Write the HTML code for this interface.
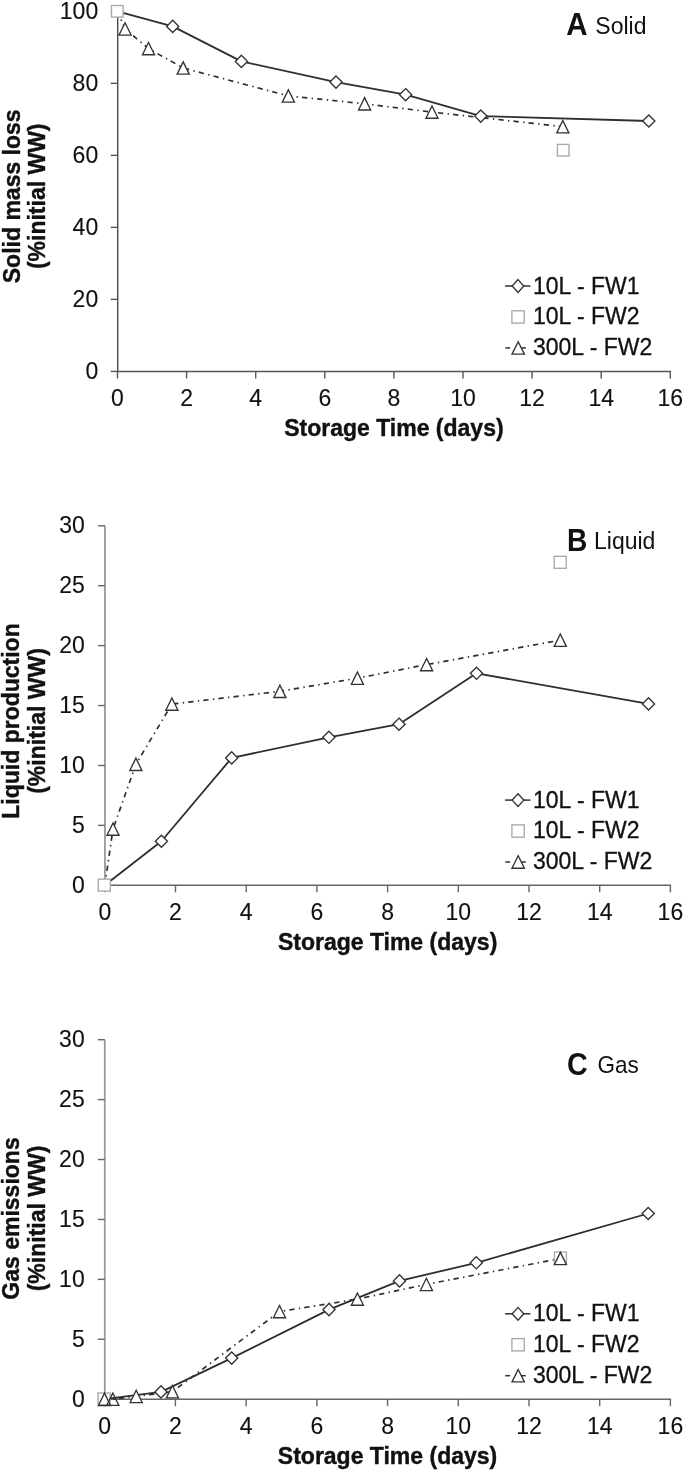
<!DOCTYPE html>
<html><head><meta charset="utf-8"><title>Storage time figure</title>
<style>
html,body{margin:0;padding:0;background:#fff;}
body{width:685px;height:1471px;overflow:hidden;}
svg{display:block;}
text{font-family:'Liberation Sans', Arial, Helvetica, sans-serif;fill:#111;stroke:#111;stroke-width:0;}
.tl{font-size:23px;stroke-width:0.12px;}
.tt{font-size:23px;font-weight:bold;stroke-width:0.4px;}
.pl{font-weight:bold;}
.lg{font-size:23px;stroke-width:0.3px;}
.ln{fill:none;stroke:#2e2e2e;stroke-width:1.8;stroke-linejoin:round;}
.dd{fill:none;stroke:#2e2e2e;stroke-width:1.7;stroke-dasharray:5.3 4.4 1.4 4.1;stroke-dashoffset:0.8;}
.mk{fill:#fff;stroke:#333333;stroke-width:1.35;stroke-linejoin:miter;}
.sq{fill:#fff;stroke:#a8a8a8;stroke-width:1.35;}
</style></head>
<body>
<svg width="685" height="1471" viewBox="0 0 685 1471">
<rect width="685" height="1471" fill="#fff"/>
<line x1="117.7" y1="11.35" x2="117.7" y2="371.4" stroke="#4a4a4a" stroke-width="1.4"/>
<line x1="110.7" y1="371.4" x2="117.7" y2="371.4" stroke="#555" stroke-width="1.4"/>
<text class="tl" x="98.2" y="378.7" text-anchor="end">0</text>
<line x1="110.7" y1="299.39" x2="117.7" y2="299.39" stroke="#555" stroke-width="1.4"/>
<text class="tl" x="98.2" y="306.69" text-anchor="end">20</text>
<line x1="110.7" y1="227.38" x2="117.7" y2="227.38" stroke="#555" stroke-width="1.4"/>
<text class="tl" x="98.2" y="234.68" text-anchor="end">40</text>
<line x1="110.7" y1="155.37" x2="117.7" y2="155.37" stroke="#555" stroke-width="1.4"/>
<text class="tl" x="98.2" y="162.67" text-anchor="end">60</text>
<line x1="110.7" y1="83.36" x2="117.7" y2="83.36" stroke="#555" stroke-width="1.4"/>
<text class="tl" x="98.2" y="90.66" text-anchor="end">80</text>
<line x1="110.7" y1="11.35" x2="117.7" y2="11.35" stroke="#555" stroke-width="1.4"/>
<text class="tl" x="98.2" y="18.65" text-anchor="end">100</text>
<line x1="116.8" y1="371.4" x2="671" y2="371.4" stroke="#555" stroke-width="1.5"/>
<line x1="117.5" y1="371.4" x2="117.5" y2="378.4" stroke="#555" stroke-width="1.4"/>
<text class="tl" x="117.5" y="405.7" text-anchor="middle">0</text>
<line x1="186.6" y1="371.4" x2="186.6" y2="378.4" stroke="#555" stroke-width="1.4"/>
<text class="tl" x="186.6" y="405.7" text-anchor="middle">2</text>
<line x1="255.7" y1="371.4" x2="255.7" y2="378.4" stroke="#555" stroke-width="1.4"/>
<text class="tl" x="255.7" y="405.7" text-anchor="middle">4</text>
<line x1="324.8" y1="371.4" x2="324.8" y2="378.4" stroke="#555" stroke-width="1.4"/>
<text class="tl" x="324.8" y="405.7" text-anchor="middle">6</text>
<line x1="393.9" y1="371.4" x2="393.9" y2="378.4" stroke="#555" stroke-width="1.4"/>
<text class="tl" x="393.9" y="405.7" text-anchor="middle">8</text>
<line x1="463" y1="371.4" x2="463" y2="378.4" stroke="#555" stroke-width="1.4"/>
<text class="tl" x="463" y="405.7" text-anchor="middle">10</text>
<line x1="532.1" y1="371.4" x2="532.1" y2="378.4" stroke="#555" stroke-width="1.4"/>
<text class="tl" x="532.1" y="405.7" text-anchor="middle">12</text>
<line x1="601.2" y1="371.4" x2="601.2" y2="378.4" stroke="#555" stroke-width="1.4"/>
<text class="tl" x="601.2" y="405.7" text-anchor="middle">14</text>
<line x1="670.3" y1="371.4" x2="670.3" y2="378.4" stroke="#555" stroke-width="1.4"/>
<text class="tl" x="670.3" y="405.7" text-anchor="middle">16</text>
<text class="tt" x="393.9" y="435.8" text-anchor="middle">Storage Time (days)</text>
<text class="tt" transform="translate(19.5 196.3) rotate(-90)" text-anchor="middle">Solid mass loss</text>
<text class="tt" transform="translate(44.8 196.3) rotate(-90)" text-anchor="middle">(%initial WW)</text>
<text class="pl" transform="translate(566.3 35.1) scale(1 1.07)" style="font-size:29.5px">A</text>
<text class="pw" transform="translate(595.3 34.3) scale(1 1)" style="font-size:23px">Solid</text>
<polyline class="ln" points="117.5,11.35 172.7,26.4 241.4,61.4 336,82.1 405.6,94.7 480.8,116.1 648.8,121"/>
<polyline class="dd" points="117.5,11.35 125.1,28.9 148.5,48.6 183.2,68 288.4,95.95 364.6,103.8 432,112.1 562.8,126.7"/>
<path class="mk" d="M172.7 20.3L178.8 26.4L172.7 32.5L166.6 26.4Z"/>
<path class="mk" d="M241.4 55.3L247.5 61.4L241.4 67.5L235.3 61.4Z"/>
<path class="mk" d="M336 76L342.1 82.1L336 88.2L329.9 82.1Z"/>
<path class="mk" d="M405.6 88.6L411.7 94.7L405.6 100.8L399.5 94.7Z"/>
<path class="mk" d="M480.8 110L486.9 116.1L480.8 122.2L474.7 116.1Z"/>
<path class="mk" d="M648.8 114.9L654.9 121L648.8 127.1L642.7 121Z"/>
<rect class="sq" x="111.5" y="5.5" width="11.6" height="11.6"/>
<rect class="sq" x="557.4" y="144.4" width="11.6" height="11.6"/>
<path class="mk" d="M125.1 22.75L131.15 35.05L119.05 35.05Z"/>
<path class="mk" d="M148.5 42.45L154.55 54.75L142.45 54.75Z"/>
<path class="mk" d="M183.2 61.85L189.25 74.15L177.15 74.15Z"/>
<path class="mk" d="M288.4 89.8L294.45 102.1L282.35 102.1Z"/>
<path class="mk" d="M364.6 97.65L370.65 109.95L358.55 109.95Z"/>
<path class="mk" d="M432 105.95L438.05 118.25L425.95 118.25Z"/>
<path class="mk" d="M562.8 120.55L568.85 132.85L556.75 132.85Z"/>
<line x1="104.95" y1="525.8" x2="104.95" y2="885.3" stroke="#9a9a9a" stroke-width="1.8"/>
<line x1="97.95" y1="885.3" x2="104.95" y2="885.3" stroke="#666" stroke-width="1.4"/>
<text class="tl" x="84.85" y="892.6" text-anchor="end">0</text>
<line x1="97.95" y1="825.38" x2="104.95" y2="825.38" stroke="#666" stroke-width="1.4"/>
<text class="tl" x="84.85" y="832.68" text-anchor="end">5</text>
<line x1="97.95" y1="765.47" x2="104.95" y2="765.47" stroke="#666" stroke-width="1.4"/>
<text class="tl" x="84.85" y="772.77" text-anchor="end">10</text>
<line x1="97.95" y1="705.55" x2="104.95" y2="705.55" stroke="#666" stroke-width="1.4"/>
<text class="tl" x="84.85" y="712.85" text-anchor="end">15</text>
<line x1="97.95" y1="645.63" x2="104.95" y2="645.63" stroke="#666" stroke-width="1.4"/>
<text class="tl" x="84.85" y="652.93" text-anchor="end">20</text>
<line x1="97.95" y1="585.72" x2="104.95" y2="585.72" stroke="#666" stroke-width="1.4"/>
<text class="tl" x="84.85" y="593.02" text-anchor="end">25</text>
<line x1="97.95" y1="525.8" x2="104.95" y2="525.8" stroke="#666" stroke-width="1.4"/>
<text class="tl" x="84.85" y="533.1" text-anchor="end">30</text>
<line x1="104.1" y1="885.3" x2="671.1" y2="885.3" stroke="#666" stroke-width="1.5"/>
<line x1="104.8" y1="885.3" x2="104.8" y2="892.3" stroke="#666" stroke-width="1.4"/>
<text class="tl" x="104.8" y="919.6" text-anchor="middle">0</text>
<line x1="175.5" y1="885.3" x2="175.5" y2="892.3" stroke="#666" stroke-width="1.4"/>
<text class="tl" x="175.5" y="919.6" text-anchor="middle">2</text>
<line x1="246.2" y1="885.3" x2="246.2" y2="892.3" stroke="#666" stroke-width="1.4"/>
<text class="tl" x="246.2" y="919.6" text-anchor="middle">4</text>
<line x1="316.9" y1="885.3" x2="316.9" y2="892.3" stroke="#666" stroke-width="1.4"/>
<text class="tl" x="316.9" y="919.6" text-anchor="middle">6</text>
<line x1="387.6" y1="885.3" x2="387.6" y2="892.3" stroke="#666" stroke-width="1.4"/>
<text class="tl" x="387.6" y="919.6" text-anchor="middle">8</text>
<line x1="458.3" y1="885.3" x2="458.3" y2="892.3" stroke="#666" stroke-width="1.4"/>
<text class="tl" x="458.3" y="919.6" text-anchor="middle">10</text>
<line x1="529" y1="885.3" x2="529" y2="892.3" stroke="#666" stroke-width="1.4"/>
<text class="tl" x="529" y="919.6" text-anchor="middle">12</text>
<line x1="599.7" y1="885.3" x2="599.7" y2="892.3" stroke="#666" stroke-width="1.4"/>
<text class="tl" x="599.7" y="919.6" text-anchor="middle">14</text>
<line x1="670.4" y1="885.3" x2="670.4" y2="892.3" stroke="#666" stroke-width="1.4"/>
<text class="tl" x="670.4" y="919.6" text-anchor="middle">16</text>
<text class="tt" x="387.6" y="949.7" text-anchor="middle">Storage Time (days)</text>
<text class="tt" transform="translate(19 721) rotate(-90)" text-anchor="middle">Liquid production</text>
<text class="tt" transform="translate(44.8 721) rotate(-90)" text-anchor="middle">(%initial WW)</text>
<text class="pl" transform="translate(566.9 550.5) scale(1 1.105)" style="font-size:28.2px">B</text>
<text class="pw" transform="translate(594 549.1) scale(1 1)" style="font-size:23px">Liquid</text>
<polyline class="ln" points="104.8,885.2 161.4,841.25 231.7,757.9 328.9,737.3 399,724.2 476.5,673.3 648.5,703.9"/>
<polyline class="dd" points="104.8,885.2 113,829.1 135.9,764.3 171.9,704.1 279.9,691.3 357.4,678.2 426.6,664.6 560.3,640.2"/>
<path class="mk" d="M161.4 835.15L167.5 841.25L161.4 847.35L155.3 841.25Z"/>
<path class="mk" d="M231.7 751.8L237.8 757.9L231.7 764L225.6 757.9Z"/>
<path class="mk" d="M328.9 731.2L335 737.3L328.9 743.4L322.8 737.3Z"/>
<path class="mk" d="M399 718.1L405.1 724.2L399 730.3L392.9 724.2Z"/>
<path class="mk" d="M476.5 667.2L482.6 673.3L476.5 679.4L470.4 673.3Z"/>
<path class="mk" d="M648.5 697.8L654.6 703.9L648.5 710L642.4 703.9Z"/>
<rect class="sq" x="98.3" y="879.1" width="12" height="12"/>
<rect class="sq" x="554.2" y="556.3" width="12" height="12"/>
<path class="mk" d="M113 822.95L119.05 835.25L106.95 835.25Z"/>
<path class="mk" d="M135.9 758.15L141.95 770.45L129.85 770.45Z"/>
<path class="mk" d="M171.9 697.95L177.95 710.25L165.85 710.25Z"/>
<path class="mk" d="M279.9 685.15L285.95 697.45L273.85 697.45Z"/>
<path class="mk" d="M357.4 672.05L363.45 684.35L351.35 684.35Z"/>
<path class="mk" d="M426.6 658.45L432.65 670.75L420.55 670.75Z"/>
<path class="mk" d="M560.3 634.05L566.35 646.35L554.25 646.35Z"/>
<line x1="104.8" y1="1039.7" x2="104.8" y2="1399.2" stroke="#9a9a9a" stroke-width="1.8"/>
<line x1="97.8" y1="1399.2" x2="104.8" y2="1399.2" stroke="#666" stroke-width="1.4"/>
<text class="tl" x="84.7" y="1406.5" text-anchor="end">0</text>
<line x1="97.8" y1="1339.28" x2="104.8" y2="1339.28" stroke="#666" stroke-width="1.4"/>
<text class="tl" x="84.7" y="1346.58" text-anchor="end">5</text>
<line x1="97.8" y1="1279.37" x2="104.8" y2="1279.37" stroke="#666" stroke-width="1.4"/>
<text class="tl" x="84.7" y="1286.67" text-anchor="end">10</text>
<line x1="97.8" y1="1219.45" x2="104.8" y2="1219.45" stroke="#666" stroke-width="1.4"/>
<text class="tl" x="84.7" y="1226.75" text-anchor="end">15</text>
<line x1="97.8" y1="1159.53" x2="104.8" y2="1159.53" stroke="#666" stroke-width="1.4"/>
<text class="tl" x="84.7" y="1166.83" text-anchor="end">20</text>
<line x1="97.8" y1="1099.62" x2="104.8" y2="1099.62" stroke="#666" stroke-width="1.4"/>
<text class="tl" x="84.7" y="1106.92" text-anchor="end">25</text>
<line x1="97.8" y1="1039.7" x2="104.8" y2="1039.7" stroke="#666" stroke-width="1.4"/>
<text class="tl" x="84.7" y="1047" text-anchor="end">30</text>
<line x1="104" y1="1399.2" x2="671.1" y2="1399.2" stroke="#666" stroke-width="1.5"/>
<line x1="104.7" y1="1399.2" x2="104.7" y2="1406.2" stroke="#666" stroke-width="1.4"/>
<text class="tl" x="104.7" y="1433.5" text-anchor="middle">0</text>
<line x1="175.41" y1="1399.2" x2="175.41" y2="1406.2" stroke="#666" stroke-width="1.4"/>
<text class="tl" x="175.41" y="1433.5" text-anchor="middle">2</text>
<line x1="246.12" y1="1399.2" x2="246.12" y2="1406.2" stroke="#666" stroke-width="1.4"/>
<text class="tl" x="246.12" y="1433.5" text-anchor="middle">4</text>
<line x1="316.84" y1="1399.2" x2="316.84" y2="1406.2" stroke="#666" stroke-width="1.4"/>
<text class="tl" x="316.84" y="1433.5" text-anchor="middle">6</text>
<line x1="387.55" y1="1399.2" x2="387.55" y2="1406.2" stroke="#666" stroke-width="1.4"/>
<text class="tl" x="387.55" y="1433.5" text-anchor="middle">8</text>
<line x1="458.26" y1="1399.2" x2="458.26" y2="1406.2" stroke="#666" stroke-width="1.4"/>
<text class="tl" x="458.26" y="1433.5" text-anchor="middle">10</text>
<line x1="528.98" y1="1399.2" x2="528.98" y2="1406.2" stroke="#666" stroke-width="1.4"/>
<text class="tl" x="528.98" y="1433.5" text-anchor="middle">12</text>
<line x1="599.69" y1="1399.2" x2="599.69" y2="1406.2" stroke="#666" stroke-width="1.4"/>
<text class="tl" x="599.69" y="1433.5" text-anchor="middle">14</text>
<line x1="670.4" y1="1399.2" x2="670.4" y2="1406.2" stroke="#666" stroke-width="1.4"/>
<text class="tl" x="670.4" y="1433.5" text-anchor="middle">16</text>
<text class="tt" x="387.55" y="1463.6" text-anchor="middle">Storage Time (days)</text>
<text class="tt" transform="translate(19.3 1218.5) rotate(-90)" text-anchor="middle">Gas emissions</text>
<text class="tt" transform="translate(44.8 1218.5) rotate(-90)" text-anchor="middle">(%initial WW)</text>
<text class="pl" transform="translate(567 1075.2) scale(1 1.087)" style="font-size:28.7px">C</text>
<text class="pw" transform="translate(597.5 1072.75) scale(1 1.058)" style="font-size:22.5px">Gas</text>
<polyline class="ln" points="104.7,1399.2 161,1391.9 231.7,1358.1 329,1309.6 399.5,1280.9 476.3,1262.8 648.2,1213.5"/>
<polyline class="dd" points="104.5,1399.3 112.8,1399.2 136.2,1396.4 172.4,1391.7 279.5,1311.6 357.4,1299.1 426.4,1284.4 560.4,1258.5"/>
<path class="mk" d="M161 1385.8L167.1 1391.9L161 1398L154.9 1391.9Z"/>
<path class="mk" d="M231.7 1352L237.8 1358.1L231.7 1364.2L225.6 1358.1Z"/>
<path class="mk" d="M329 1303.5L335.1 1309.6L329 1315.7L322.9 1309.6Z"/>
<path class="mk" d="M399.5 1274.8L405.6 1280.9L399.5 1287L393.4 1280.9Z"/>
<path class="mk" d="M476.3 1256.7L482.4 1262.8L476.3 1268.9L470.2 1262.8Z"/>
<path class="mk" d="M648.2 1207.4L654.3 1213.5L648.2 1219.6L642.1 1213.5Z"/>
<rect class="sq" x="98.1" y="1393" width="12" height="12"/>
<rect class="sq" x="554.4" y="1252" width="12" height="12"/>
<path class="mk" style="fill:none" d="M104.5 1393.15L110.55 1405.45L98.45 1405.45Z"/>
<path class="mk" style="fill:none" d="M112.8 1393.05L118.85 1405.35L106.75 1405.35Z"/>
<path class="mk" d="M136.2 1390.25L142.25 1402.55L130.15 1402.55Z"/>
<path class="mk" d="M172.4 1385.55L178.45 1397.85L166.35 1397.85Z"/>
<path class="mk" d="M279.5 1305.45L285.55 1317.75L273.45 1317.75Z"/>
<path class="mk" d="M357.4 1292.95L363.45 1305.25L351.35 1305.25Z"/>
<path class="mk" d="M426.4 1278.25L432.45 1290.55L420.35 1290.55Z"/>
<path class="mk" d="M560.4 1252.35L566.45 1264.65L554.35 1264.65Z"/>
<line x1="505.1" y1="286" x2="530.4" y2="286" stroke="#303030" stroke-width="1.5"/>
<path class="mk" d="M518 279.6L523.8 286L518 292.4L512.2 286Z"/>
<text class="lg" x="533" y="293.6">10L - FW1</text>
<rect class="sq" x="511.9" y="310.8" width="12.3" height="12.3"/>
<text class="lg" x="533" y="324.25">10L - FW2</text>
<path class="mk" d="M518.2 341.7L524.4 354.1L512 354.1Z"/>
<line x1="505.3" y1="347.9" x2="510.1" y2="347.9" stroke="#303030" stroke-width="1.5"/>
<line x1="521.6" y1="347.9" x2="525.8" y2="347.9" stroke="#303030" stroke-width="1.5"/>
<text class="lg" x="533" y="354.7">300L - FW2</text>
<line x1="505.1" y1="800.1" x2="530.4" y2="800.1" stroke="#303030" stroke-width="1.5"/>
<path class="mk" d="M518 793.7L523.8 800.1L518 806.5L512.2 800.1Z"/>
<text class="lg" x="533" y="807.7">10L - FW1</text>
<rect class="sq" x="511.9" y="824.9" width="12.3" height="12.3"/>
<text class="lg" x="533" y="838.35">10L - FW2</text>
<path class="mk" d="M518.2 855.8L524.4 868.2L512 868.2Z"/>
<line x1="505.3" y1="862" x2="510.1" y2="862" stroke="#303030" stroke-width="1.5"/>
<line x1="521.6" y1="862" x2="525.8" y2="862" stroke="#303030" stroke-width="1.5"/>
<text class="lg" x="533" y="868.8">300L - FW2</text>
<line x1="505.1" y1="1313.8" x2="530.4" y2="1313.8" stroke="#303030" stroke-width="1.5"/>
<path class="mk" d="M518 1307.4L523.8 1313.8L518 1320.2L512.2 1313.8Z"/>
<text class="lg" x="533" y="1321.4">10L - FW1</text>
<rect class="sq" x="511.9" y="1338.6" width="12.3" height="12.3"/>
<text class="lg" x="533" y="1352.05">10L - FW2</text>
<path class="mk" d="M518.2 1369.5L524.4 1381.9L512 1381.9Z"/>
<line x1="505.3" y1="1375.7" x2="510.1" y2="1375.7" stroke="#303030" stroke-width="1.5"/>
<line x1="521.6" y1="1375.7" x2="525.8" y2="1375.7" stroke="#303030" stroke-width="1.5"/>
<text class="lg" x="533" y="1382.5">300L - FW2</text>
</svg>
</body></html>
